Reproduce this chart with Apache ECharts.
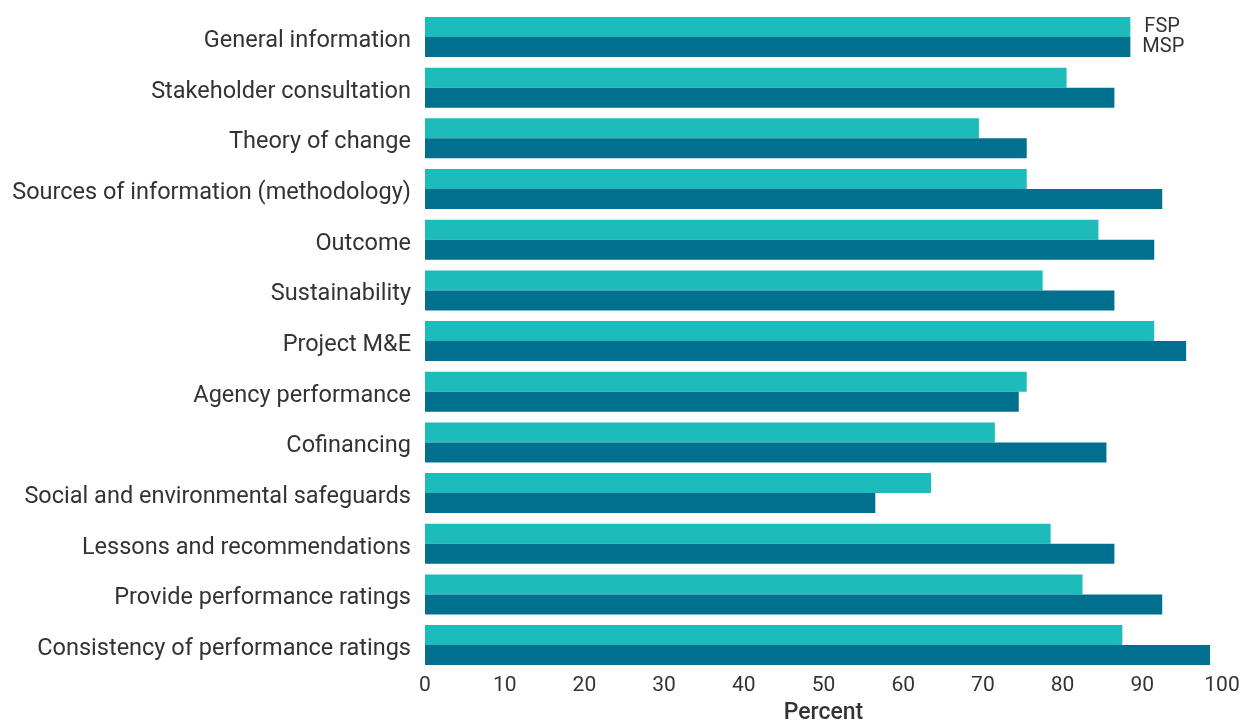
<!DOCTYPE html>
<html>
<head>
<meta charset="utf-8">
<script src="https://cdn.jsdelivr.net/npm/echarts@6/dist/echarts.min.js"></script>
<style>
  html, body { margin: 0; padding: 0; background: #fff; }
  #chart { width: 1243px; height: 721px; }
</style>
</head>
<body>
<div id="chart"></div>
<script>
// categories, top to bottom
var categories = [
    'General information',
    'Stakeholder consultation',
    'Theory of change',
    'Sources of information (methodology)',
    'Outcome',
    'Sustainability',
    'Project M&E',
    'Agency performance',
    'Cofinancing',
    'Social and environmental safeguards',
    'Lessons and recommendations',
    'Provide performance ratings',
    'Consistency of performance ratings'
];
var fspValues = [88.5, 80.5, 69.5, 75.5, 84.5, 77.5, 91.5, 75.5, 71.5, 63.5, 78.5, 82.5, 87.5];
var mspValues = [88.5, 86.5, 75.5, 92.5, 91.5, 86.5, 95.5, 74.5, 85.5, 56.5, 86.5, 92.5, 98.5];
var xTicks = [0, 10, 20, 30, 40, 50, 60, 70, 80, 90, 100];

var textColor = '#333333';
var fontFam = 'Roboto, "DejaVu Sans", sans-serif';

var myChart = echarts.init(document.getElementById('chart'));

// series name shown only next to the first (top) bar
function nameLabel(p) {
    return p.dataIndex === 0 ? p.seriesName : '';
}

var option = {
    animation: false,
    color: ['#1DBCBB', '#01708F'],
    grid: {
        left: 425,
        width: 797,
        top: 11.7,
        height: 658.7,
        containLabel: false,
        outerBoundsMode: 'none'
    },
    xAxis: {
        type: 'value',
        min: xTicks[0],
        max: xTicks[xTicks.length - 1],
        interval: 10,
        name: 'Percent',
        nameLocation: 'middle',
        nameGap: 29,
        nameTextStyle: {
            color: textColor,
            fontFamily: fontFam,
            fontSize: 23,
            fontWeight: 500
        },
        axisLine: { show: false },
        axisTick: { show: false },
        splitLine: { show: false },
        axisLabel: {
            color: textColor,
            fontFamily: fontFam,
            fontSize: 21,
            margin: 5
        }
    },
    yAxis: {
        type: 'category',
        inverse: true,
        data: categories,
        axisLine: { show: false },
        axisTick: { show: false },
        axisLabel: {
            margin: 14,
            formatter: function (v) { return '{c|' + v + '}'; },
            rich: {
                c: {
                    color: textColor,
                    fontFamily: fontFam,
                    fontSize: 23.5,
                    padding: [8, 0, 0, 0]
                }
            }
        }
    },
    series: [
        {
            name: 'FSP',
            type: 'bar',
            barWidth: 20,
            barGap: '0%',
            label: {
                show: true,
                position: 'right',
                distance: 14,
                color: textColor,
                fontFamily: fontFam,
                fontSize: 20,
                formatter: nameLabel
            },
            data: fspValues
        },
        {
            name: 'MSP',
            type: 'bar',
            barWidth: 20,
            barGap: '0%',
            label: {
                show: true,
                position: 'right',
                distance: 12,
                color: textColor,
                fontFamily: fontFam,
                fontSize: 20,
                formatter: nameLabel
            },
            data: mspValues
        }
    ]
};
myChart.setOption(option);
</script>
</body>
</html>
